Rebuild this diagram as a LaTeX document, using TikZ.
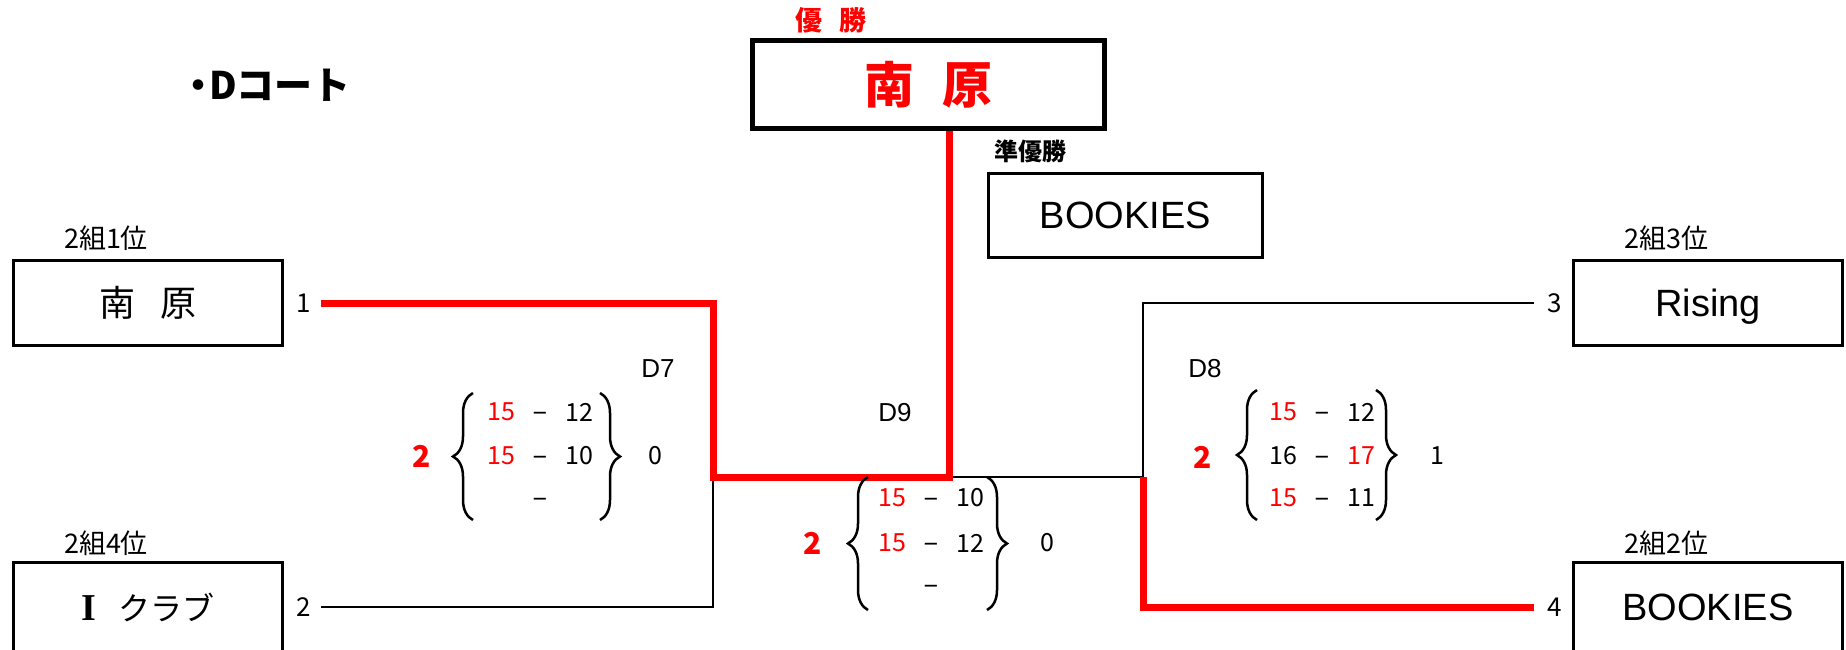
\documentclass[tikz,border=0pt]{standalone}
\usepackage{fontspec}
\setmainfont{Liberation Sans}
\newfontfamily\jp{Noto Sans CJK JP}
\newfontfamily\serifI{Liberation Serif}
\usetikzlibrary{decorations.pathreplacing}
\newcommand{\setfs}[1]{\fontsize{#1pt}{#1pt}\selectfont}
\begin{document}
\begin{tikzpicture}[x=1pt,y=-1pt,
  team/.style={draw, line width=3pt, minimum width=269pt, minimum height=85pt, inner sep=0pt},
  lbl/.style={inner sep=0pt, font=\jp\setfs{27}},
  num/.style={inner sep=0pt, font=\jp\setfs{26}},
  sc/.style={inner sep=0pt, font=\jp\setfs{25}},
  scr/.style={sc, text=red},
  dsh/.style={inner sep=0pt, anchor=base, font=\setfs{25}},
  setw/.style={inner sep=0pt, font=\jp\bfseries\setfs{30}, text=red},
  dlbl/.style={inner sep=0pt, font=\setfs{26}},
  blk/.style={line width=2.5pt},
  rd/.style={line width=7pt, red},
  brc/.style={line width=2.5pt, decorate, decoration={brace, amplitude=20pt}}
]
\useasboundingbox (0,0) rectangle (1846,649);
\clip (0,0) rectangle (1846,649);

% title
\node[anchor=west, inner sep=0pt, font=\jp\bfseries\setfs{38}] (title) at (179,85) {・\kern-8pt Dコート};

% champion and runner-up
\node[inner sep=0pt, text=red, font=\jp\bfseries\setfs{27}] (yusho) at (831,20) {優\hspace{18pt}勝};
\node[draw, line width=5pt, minimum width=352pt, minimum height=88pt, inner sep=0pt, text=red, font=\jp\bfseries\setfs{50}] (champ) at (928.5,84.5) {南\hspace{28pt}原};
\node[inner sep=0pt, font=\jp\bfseries\setfs{24}] (junlbl) at (1030,151) {準優勝};
\node[draw, line width=3pt, minimum width=274pt, minimum height=84pt, inner sep=0pt, text depth=0pt, font=\setfs{38}] (runner) at (1125.5,215.5) {BOOKIES};

% teams
\node[team, font=\jp\setfs{36}] (t1) at (148,303) {南\hspace{26pt}原};
\node[team, minimum height=90pt, font=\jp\setfs{32}] (t2) at (148,607.5) {{\serifI\bfseries\setfs{38}I}\hspace{23pt}クラブ};
\node[team, text depth=0pt, font=\setfs{38}] (t3) at (1708,303) {Rising};
\node[team, minimum height=90pt, text depth=0pt, font=\setfs{38}] (t4) at (1708,607.5) {BOOKIES};

\node[lbl] (g1) at (106,238) {2組1位};
\node[lbl] (g4) at (106,543) {2組4位};
\node[lbl] (g3) at (1666,238) {2組3位};
\node[lbl] (g2) at (1666,543) {2組2位};

\node[num] (n1) at (304,303) {1};
\node[num] (n2) at (304,607) {2};
\node[num] (n3) at (1555,303) {3};
\node[num] (n4) at (1555,607) {4};

% connectors
\coordinate (s1) at (321,303);
\coordinate (s2) at (321,607);
\coordinate (s3) at (1534,303);
\coordinate (s4) at (1534,607);
\coordinate (j7) at (713,477);
\coordinate (j8) at (1143,477);
\coordinate (j9) at (949,477);

\draw[blk] (s2) -| (j7);
\draw[blk] (s3) -| (j8) -- (j9);
\draw[rd] (s1) -| (j7) -- (j9) -- (j9 |- champ.south);
\draw[rd] (s4) -| (j8);

% D7
\node[dlbl] (d7) at (658,369) {D7};
\node[setw] (d7w) at (422,456) {2};
\node[sc] (d7l) at (655,456) {0};
\draw[brc] (473,520) -- (473,393);
\draw[brc] (600,393) -- (600,520);
\node[scr] (d7a1) at (501,412) {15};
\node[dsh] (d7m1) at (540,421) {−};
\node[sc] (d7b1) at (579,412) {12};
\node[scr] (d7a2) at (501,456) {15};
\node[dsh] (d7m2) at (540,465) {−};
\node[sc] (d7b2) at (579,456) {10};
\node[dsh] (d7m3) at (540,507) {−};

% D9
\node[dlbl] (d9) at (895,413) {D9};
\node[setw] (d9w) at (813,543) {2};
\node[sc] (d9l) at (1047,543) {0};
\draw[brc] (868,610) -- (868,477);
\draw[brc] (987,477) -- (987,610);
\node[scr] (d9a1) at (892,498) {15};
\node[dsh] (d9m1) at (931,507) {−};
\node[sc] (d9b1) at (970,498) {10};
\node[scr] (d9a2) at (892,543) {15};
\node[dsh] (d9m2) at (931,552) {−};
\node[sc] (d9b2) at (970,543) {12};
\node[dsh] (d9m3) at (931,594) {−};

% D8
\node[dlbl] (d8) at (1205,369) {D8};
\node[setw] (d8w) at (1203,457) {2};
\node[sc] (d8l) at (1437,456) {1};
\draw[brc] (1257,520) -- (1257,390);
\draw[brc] (1376,390) -- (1376,520);
\node[scr] (d8a1) at (1283,412) {15};
\node[dsh] (d8m1) at (1322,421) {−};
\node[sc] (d8b1) at (1361,412) {12};
\node[sc] (d8a2) at (1283,456) {16};
\node[dsh] (d8m2) at (1322,465) {−};
\node[scr] (d8b2) at (1361,456) {17};
\node[scr] (d8a3) at (1283,498) {15};
\node[dsh] (d8m3) at (1322,507) {−};
\node[sc] (d8b3) at (1361,498) {11};
\end{tikzpicture}
\end{document}
